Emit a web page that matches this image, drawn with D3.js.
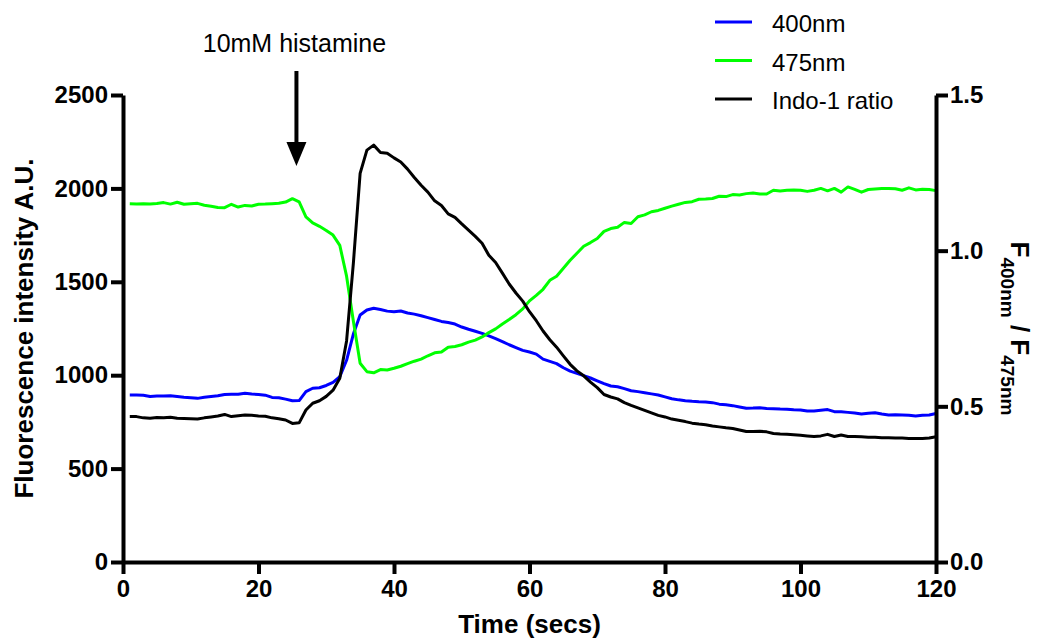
<!DOCTYPE html>
<html>
<head>
<meta charset="utf-8">
<script src="https://cdn.jsdelivr.net/npm/d3@7"></script>
<style>
  html, body { margin: 0; padding: 0; background: #fff; }
  svg { display: block; font-family: "Liberation Sans", Arial, Helvetica, sans-serif; }
</style>
</head>
<body>
<svg id="chart" width="1042" height="638"></svg>
<script>
// ---- Data ----
const timeSecs = d3.range(1, 121); // sample times, 1..120 s

const f400 = [894,894,893,886,888,889,890,886,882,879,876,882,886,890,897,898,898,903,899,897,
  893,881,879,872,863,864,912,930,933,945,962,992,1080,1220,1322,1349,1358,1352,1343,1340,
  1344,1333,1327,1318,1308,1298,1288,1282,1274,1258,1246,1235,1224,1210,1196,1180,1163,1148,1133,1124,
  1113,1086,1074,1062,1040,1022,1010,998,985,970,955,942,938,928,917,912,906,900,894,884,
  874,868,863,860,858,857,853,845,842,837,830,823,824,826,822,821,819,818,815,814,
  808,808,812,816,805,804,801,798,792,796,799,792,787,788,787,785,782,785,787,795];

const f475 = [1918,1917,1918,1916,1919,1924,1916,1926,1915,1918,1920,1910,1904,1898,1897,1915,1900,1909,1906,1915,
  1916,1918,1920,1927,1945,1928,1848,1815,1797,1775,1750,1695,1530,1290,1064,1019,1013,1030,1028,1037,
  1048,1062,1075,1086,1104,1120,1124,1150,1154,1163,1177,1188,1205,1228,1248,1274,1298,1324,1355,1398,
  1427,1460,1508,1530,1572,1615,1653,1690,1710,1732,1770,1785,1792,1818,1812,1848,1858,1875,1882,1894,
  1905,1915,1925,1929,1942,1943,1946,1958,1956,1967,1965,1972,1975,1970,1970,1990,1986,1990,1991,1990,
  1984,1990,2000,1987,2000,1980,2008,1995,1980,1994,1997,1999,2000,1998,1990,2003,1992,1995,1994,1988];

const indoRatio = [0.467,0.467,0.463,0.462,0.464,0.463,0.465,0.462,0.461,0.460,0.459,0.463,0.466,0.469,0.474,0.467,0.470,0.472,0.471,0.469,
  0.468,0.463,0.460,0.456,0.445,0.447,0.488,0.510,0.518,0.532,0.552,0.590,0.710,0.959,1.248,1.323,1.339,1.315,1.313,1.298,
  1.285,1.262,1.235,1.210,1.188,1.160,1.145,1.118,1.107,1.086,1.066,1.046,1.024,0.985,0.962,0.928,0.893,0.864,0.838,0.804,
  0.775,0.742,0.714,0.690,0.662,0.635,0.614,0.598,0.578,0.560,0.538,0.530,0.524,0.512,0.503,0.495,0.487,0.479,0.471,0.466,
  0.459,0.455,0.451,0.446,0.443,0.441,0.437,0.434,0.431,0.429,0.424,0.419,0.419,0.420,0.418,0.413,0.411,0.410,0.409,0.407,
  0.405,0.403,0.405,0.410,0.403,0.408,0.403,0.403,0.402,0.401,0.401,0.399,0.399,0.398,0.398,0.397,0.397,0.397,0.398,0.402];

const xTicks = [0, 20, 40, 60, 80, 100, 120];
const yLeftTicks = [0, 500, 1000, 1500, 2000, 2500];
const yRightTicks = [0, 0.5, 1.0, 1.5];
const legendLabels = ["400nm", "475nm", "Indo-1 ratio"];
const annotationText = "10mM histamine";
const annotationTime = 25.6;

// ---- Layout ----
const W = 1042, H = 638;
const margin = {left: 123, right: 106, top: 95, bottom: 76};
const svg = d3.select("#chart");

const x = d3.scaleLinear().domain([0, 120]).range([margin.left, W - margin.right]);
const yL = d3.scaleLinear().domain([0, 2500]).range([H - margin.bottom, margin.top]);
const yR = d3.scaleLinear().domain([0, 1.5]).range([H - margin.bottom, margin.top]);

const colors = {f400: "#0000ff", f475: "#00ff00", ratio: "#000000"};

// ---- Lines ----
const lineL = d3.line().x((d, i) => x(timeSecs[i])).y(d => yL(d));
const lineR = d3.line().x((d, i) => x(timeSecs[i])).y(d => yR(d));

const gLines = svg.append("g").attr("fill", "none").attr("stroke-width", 3).attr("stroke-linejoin", "round");
gLines.append("path").datum(f400).attr("stroke", colors.f400).attr("d", lineL);
gLines.append("path").datum(f475).attr("stroke", colors.f475).attr("d", lineL);
gLines.append("path").datum(indoRatio).attr("stroke", colors.ratio).attr("d", lineR);

// ---- Axes ----
function styleAxis(g) {
  g.select(".domain").attr("stroke", "#000").attr("stroke-width", 4);
  g.selectAll(".tick line").attr("stroke", "#000").attr("stroke-width", 4);
  g.selectAll(".tick text").attr("fill", "#000").attr("font-size", 24).attr("font-weight", "bold")
    .attr("font-family", "'Liberation Sans', Arial, sans-serif");
}

const xAxis = svg.append("g")
  .attr("transform", `translate(0,${H - margin.bottom})`)
  .call(d3.axisBottom(x).tickValues(xTicks).tickFormat(d3.format("d")).tickSize(12).tickSizeOuter(0).tickPadding(6));
styleAxis(xAxis);

const yAxisL = svg.append("g")
  .attr("transform", `translate(${margin.left},0)`)
  .call(d3.axisLeft(yL).tickValues(yLeftTicks).tickFormat(d3.format("d")).tickSize(12).tickSizeOuter(0).tickPadding(3));
styleAxis(yAxisL);

const yAxisR = svg.append("g")
  .attr("transform", `translate(${W - margin.right},0)`)
  .call(d3.axisRight(yR).tickValues(yRightTicks).tickFormat(d3.format(".1f")).tickSize(12).tickSizeOuter(0).tickPadding(2));
styleAxis(yAxisR);

// ---- Axis titles ----
const midY = (margin.top + H - margin.bottom) / 2;
svg.append("text")
  .attr("transform", `translate(33,${midY}) rotate(-90)`)
  .attr("text-anchor", "middle").attr("font-size", 26).attr("font-weight", "bold")
  .text("Fluorescence intensity A.U.");

svg.append("text")
  .attr("x", (margin.left + W - margin.right) / 2).attr("y", 633)
  .attr("text-anchor", "middle").attr("font-size", 26).attr("font-weight", "bold")
  .text("Time (secs)");

const rt = svg.append("text")
  .attr("transform", `translate(1011,${midY}) rotate(90)`)
  .attr("text-anchor", "middle").attr("font-weight", "bold").attr("font-size", 26);
rt.append("tspan").text("F");
rt.append("tspan").attr("font-size", 19).attr("dy", 10).text("400nm");
rt.append("tspan").attr("dy", -10).text(" / F");
rt.append("tspan").attr("font-size", 19).attr("dy", 10).text("475nm");

// ---- Legend ----
const legendSeries = [colors.f400, colors.f475, colors.ratio];
const legend = svg.append("g");
legendSeries.forEach((c, i) => {
  const yy = 22 + i * 38.5;
  legend.append("line").attr("x1", 715).attr("x2", 752).attr("y1", yy).attr("y2", yy)
    .attr("stroke", c).attr("stroke-width", 3);
  legend.append("text").attr("x", 772).attr("y", yy + 10).attr("font-size", 24)
    .text(legendLabels[i]);
});

// ---- Annotation ----
const ax = x(annotationTime);
svg.append("text").attr("x", ax - 2).attr("y", 52).attr("text-anchor", "middle")
  .attr("font-size", 25).text(annotationText);
svg.append("line").attr("x1", ax).attr("x2", ax).attr("y1", 71).attr("y2", 146)
  .attr("stroke", "#000").attr("stroke-width", 4);
svg.append("path")
  .attr("d", `M${ax - 10},142 L${ax + 10},142 L${ax},166 Z`).attr("fill", "#000");
</script>
</body>
</html>
